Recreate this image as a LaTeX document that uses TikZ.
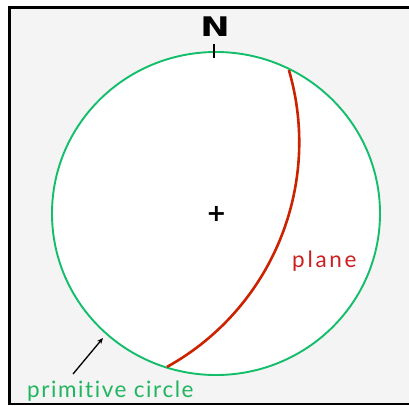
\documentclass[tikz,border=0pt]{standalone}
\usepackage{fontspec}
\setmainfont{Lato}
\newfontfamily\nfont{DejaVu Sans}
\newfontfamily\lblfont[LetterSpace=7,Ligatures=NoCommon]{Lato}
\newfontfamily\plfont[LetterSpace=12,Ligatures=NoCommon]{Lato}
\usetikzlibrary{arrows.meta}
\definecolor{bggray}{HTML}{F4F4F4}
\definecolor{pgreen}{HTML}{12BE6A}
\definecolor{pred}{HTML}{CC2200}
\definecolor{tred}{HTML}{CC1F1F}
\definecolor{tgreen}{HTML}{22B55F}
\tikzset{
  framebox/.style={line width=2.5pt, fill=bggray, draw=black},
  primcircle/.style={draw=pgreen, line width=1.9pt, fill=white},
  planearc/.style={draw=pred, line width=2.6pt},
  lbl/.style={inner sep=0pt, anchor=base west},
  pointer/.style={-{Stealth[length=6pt,width=5pt]}, line width=1.3pt, black}
}
\begin{document}
\begin{tikzpicture}[x=1pt,y=-1pt]
\useasboundingbox (0,0) rectangle (409,406);
\fill[white] (0,0) rectangle (409,406);
\begin{scope}
\clip (0,0) rectangle (409,406);
\draw[framebox] (9.5,7.5) rectangle (420,404);
\end{scope}
\draw[primcircle] (216,213.5) ellipse [x radius=164, y radius=161.5];
\draw[planearc] (288.9,70.1) arc[start angle=-16.3, end angle=60.96, radius=257];
\node[font=\nfont\bfseries\fontsize{27}{27}\selectfont, inner sep=0pt] (N) at (215,27) {\scalebox{1.3}[1]{N}};
\coordinate (tickA) at (214,44);
\coordinate (tickB) at (214,58);
\draw[line width=1.2pt] (tickA) -- (tickB);
\node[font=\nfont\bfseries\fontsize{24}{24}\selectfont, inner sep=0pt] (ctr) at (216.5,214) {+};
\node[lbl, font=\plfont\fontsize{22.5}{22.5}\selectfont, text=tred] (plane) at (292,267) {plane};
\node[lbl, font=\lblfont\fontsize{22.5}{22.5}\selectfont, text=tgreen] (prim) at (27,397) {primitive circle};
\coordinate (arrS) at (73,374);
\coordinate (arrE) at (103,338);
\draw[pointer] (arrS) -- (arrE);
\end{tikzpicture}
\end{document}
